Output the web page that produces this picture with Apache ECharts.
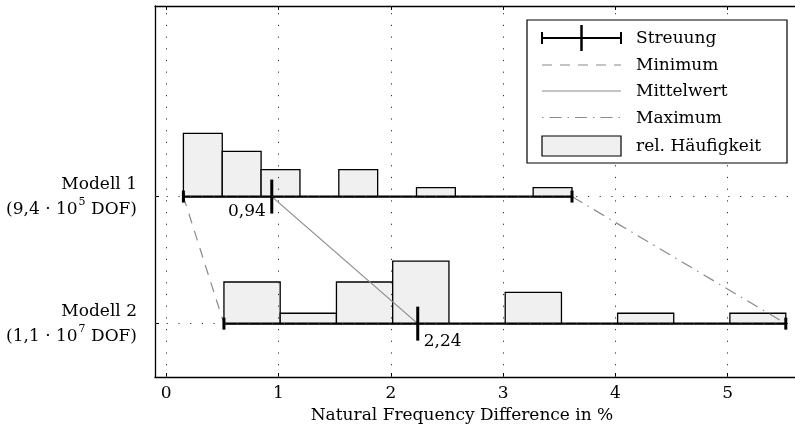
<!DOCTYPE html>
<html>
<head>
<meta charset="utf-8">
<script src="https://cdn.jsdelivr.net/npm/echarts@6/dist/echarts.min.js"></script>
<style>
html,body{margin:0;padding:0;background:#fff;}
#container{width:795px;height:431px;}
</style>
</head>
<body>
<div id="container"></div>
<script>
// --- data ---
var modelNames = ['Modell 1', 'Modell 2'];
var modelDofBase = ['9,4', '1,1'];
var modelDofExp = ['5', '7'];
var modelPos = [1, 0];
var minVals = [0.153, 0.514];
var meanVals = [0.94, 2.24];
var maxVals = [3.614, 5.518];
var meanLabels = ['0,94', '2,24'];
var binEdges1 = [0.153, 0.499, 0.845, 1.191, 1.537, 1.883, 2.229, 2.575, 2.921, 3.268, 3.614];
var relFreq1 = [0.304, 0.217, 0.130, 0, 0.130, 0, 0.043, 0, 0, 0.043];
var binEdges2 = [0.514, 1.015, 1.516, 2.017, 2.518, 3.019, 3.520, 4.020, 4.520, 5.020, 5.518];
var relFreq2 = [0.20, 0.05, 0.20, 0.30, 0, 0.15, 0, 0.05, 0, 0.05];
var xTicks = [0, 1, 2, 3, 4, 5];
var legendNames = ['Streuung', 'Minimum', 'Mittelwert', 'Maximum', 'rel. Häufigkeit'];

var FONT = '"DejaVu Serif", serif';
var freqScale = 1.638;   // y units per 1.0 rel. frequency
var grey = '#8a8a8a';
var dashMin = [10, 8];
var dashMax = [12, 6, 1.5, 6];

var dom = document.querySelector('#container');
var myChart = echarts.init(dom);

var histData = function (edges, freq, base) {
    return freq.map(function (f, i) { return [edges[i], edges[i + 1], f, base]; });
};

var connect = function (vals) {
    return [[vals[0], modelPos[0]], [vals[1], modelPos[1]]];
};

var barRender = function (params, api) {
    var h = api.value(2);
    if (!h) return null;
    var p0 = api.coord([api.value(0), api.value(3)]);
    var p1 = api.coord([api.value(1), api.value(3) + h * freqScale]);
    return {
        type: 'rect',
        shape: { x: p0[0], y: p1[1], width: p1[0] - p0[0], height: p0[1] - p1[1] },
        style: { fill: '#f0f0f0', stroke: '#000', lineWidth: 1.3 }
    };
};

var spreadRender = function (params, api) {
    var i = params.dataIndex;
    var y = api.value(3);
    var a = api.coord([api.value(0), y]);
    var m = api.coord([api.value(1), y]);
    var b = api.coord([api.value(2), y]);
    var st = { stroke: '#000', lineWidth: 2.2 };
    var tk = { stroke: '#000', lineWidth: 3 };
    var right = i === 0;
    return {
        type: 'group',
        children: [
            { type: 'line', shape: { x1: a[0], y1: a[1], x2: b[0], y2: b[1] }, style: st },
            { type: 'line', shape: { x1: a[0], y1: a[1] - 6, x2: a[0], y2: a[1] + 6 }, style: tk },
            { type: 'line', shape: { x1: b[0], y1: b[1] - 6, x2: b[0], y2: b[1] + 6 }, style: tk },
            { type: 'line', shape: { x1: m[0], y1: m[1] - 17, x2: m[0], y2: m[1] + 17 }, style: tk },
            {
                type: 'text',
                style: {
                    text: meanLabels[i],
                    x: right ? m[0] - 6 : m[0] + 6,
                    y: m[1] + (right ? 15 : 18),
                    align: right ? 'right' : 'left',
                    verticalAlign: 'middle',
                    font: '17px ' + FONT,
                    fill: '#000'
                }
            }
        ]
    };
};

var spreadData = modelPos.map(function (p, i) {
    return [minVals[i], meanVals[i], maxVals[i], p];
});

var dotted = { type: [1.2, 10.5], color: '#333', width: 1 };

var legendGraphic = function () {
    var ys = [38, 65, 91, 117.5, 146];
    var x1 = 542, x2 = 621, tx = 636;
    var g = [
        { type: 'rect', shape: { x: 527, y: 20, width: 260, height: 143 }, style: { fill: '#fff', stroke: '#000', lineWidth: 1.2 } },
        { type: 'line', shape: { x1: x1, y1: ys[0], x2: x2, y2: ys[0] }, style: { stroke: '#000', lineWidth: 2 } },
        { type: 'line', shape: { x1: x1, y1: ys[0] - 6, x2: x1, y2: ys[0] + 6 }, style: { stroke: '#000', lineWidth: 2 } },
        { type: 'line', shape: { x1: x2, y1: ys[0] - 6, x2: x2, y2: ys[0] + 6 }, style: { stroke: '#000', lineWidth: 2 } },
        { type: 'line', shape: { x1: (x1 + x2) / 2, y1: ys[0] - 13, x2: (x1 + x2) / 2, y2: ys[0] + 13 }, style: { stroke: '#000', lineWidth: 2.5 } },
        { type: 'line', shape: { x1: x1, y1: ys[1], x2: x2, y2: ys[1] }, style: { stroke: grey, lineWidth: 1.2, lineDash: dashMin } },
        { type: 'line', shape: { x1: x1, y1: ys[2], x2: x2, y2: ys[2] }, style: { stroke: grey, lineWidth: 1.2 } },
        { type: 'line', shape: { x1: x1, y1: ys[3], x2: x2, y2: ys[3] }, style: { stroke: grey, lineWidth: 1.2, lineDash: [1.5, 6, 12, 6] } },
        { type: 'rect', shape: { x: x1, y: ys[4] - 10, width: x2 - x1, height: 20 }, style: { fill: '#f0f0f0', stroke: '#000', lineWidth: 1.2 } }
    ];
    legendNames.forEach(function (n, i) {
        g.push({ type: 'text', style: { text: n, x: tx, y: ys[i] + 1, verticalAlign: 'middle', font: '17px ' + FONT, fill: '#000' } });
    });
    return g.map(function (e) { e.z = 100; return e; });
};

var yLabel = function (v) {
    var i = modelPos.indexOf(v);
    if (i < 0) return '';
    return '{a|' + modelNames[i] + '}\n{a|(' + modelDofBase[i] + ' · 10}{s|' + modelDofExp[i] + '}{a| DOF)}';
};

var option = {
    animation: false,
    grid: { left: 155, top: 6, width: 643.5, height: 371, containLabel: false },
    xAxis: [{
        type: 'value', min: -0.1, max: 5.6, position: 'bottom',
        axisLine: { onZero: false, lineStyle: { color: '#000', width: 1.3 } },
        axisTick: { inside: true, length: 4, customValues: xTicks, lineStyle: { color: '#000' } },
        axisLabel: { customValues: xTicks, color: '#000', fontFamily: FONT, fontSize: 17, margin: 8 },
        splitLine: { show: false },
        name: 'Natural Frequency Difference in %',
        nameLocation: 'middle', nameGap: 26,
        nameTextStyle: { color: '#000', fontFamily: FONT, fontSize: 17, padding: [0, 26, 0, 0] }
    }, {
        type: 'value', min: -0.1, max: 5.6, position: 'top',
        axisLine: { onZero: false, lineStyle: { color: '#000', width: 1.3 } },
        axisTick: { inside: true, length: 4, customValues: xTicks, lineStyle: { color: '#000' } },
        axisLabel: { show: false },
        splitLine: { show: false }
    }],
    yAxis: {
        type: 'value', min: -0.42, max: 2.5, position: 'left',
        axisLine: { show: true, onZero: false, lineStyle: { color: '#000', width: 1.3 } },
        axisTick: { show: true, inside: true, length: 4, customValues: modelPos, lineStyle: { color: '#000' } },
        axisLabel: {
            customValues: modelPos, formatter: yLabel, margin: 18, align: 'right',
            rich: {
                a: { fontFamily: FONT, fontSize: 17, color: '#000', lineHeight: 25 },
                s: { fontFamily: FONT, fontSize: 11, color: '#000', lineHeight: 25, verticalAlign: 'top', padding: [0, 0, 0, 1] }
            }
        },
        splitLine: { show: false }
    },
    series: [{
        type: 'line', data: [], silent: true, z: 1,
        markLine: {
            silent: true, symbol: 'none', label: { show: false },
            lineStyle: dotted,
            data: xTicks.map(function (v) { return { xAxis: v }; })
                .concat(modelPos.map(function (v) { return { yAxis: v }; }))
        }
    }, {
        type: 'custom', name: 'Modell 1 Häufigkeit', z: 2,
        renderItem: barRender, encode: { x: [0, 1], y: 3 },
        data: histData(binEdges1, relFreq1, modelPos[0])
    }, {
        type: 'custom', name: 'Modell 2 Häufigkeit', z: 2,
        renderItem: barRender, encode: { x: [0, 1], y: 3 },
        data: histData(binEdges2, relFreq2, modelPos[1])
    }, {
        type: 'line', name: 'Minimum', z: 3, symbol: 'none',
        lineStyle: { color: grey, width: 1.2, type: dashMin },
        data: connect(minVals)
    }, {
        type: 'line', name: 'Mittelwert', z: 3, symbol: 'none',
        lineStyle: { color: grey, width: 1.2 },
        data: connect(meanVals)
    }, {
        type: 'line', name: 'Maximum', z: 3, symbol: 'none',
        lineStyle: { color: grey, width: 1.2, type: dashMax },
        data: connect(maxVals)
    }, {
        type: 'custom', name: 'Streuung', z: 4,
        renderItem: spreadRender, encode: { x: [0, 1, 2], y: 3 },
        data: spreadData
    }],
    graphic: legendGraphic()
};

myChart.setOption(option);
</script>
</body>
</html>
